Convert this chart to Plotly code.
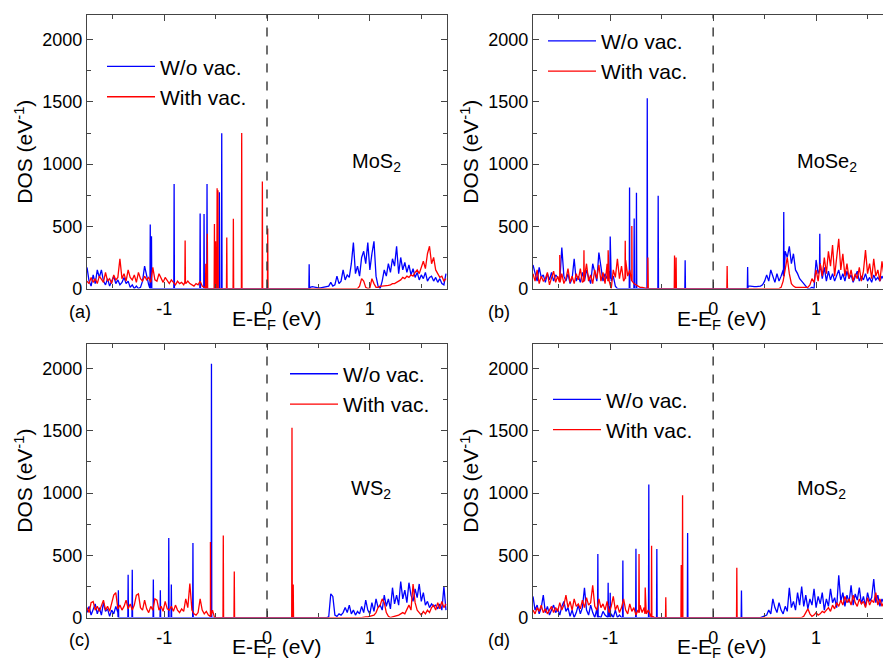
import plotly.graph_objects as go

STEP = 0.02  # energy grid spacing (eV) of the DOS segments

# ---------------- text ----------------
materials = ["MoS<sub>2</sub>", "MoSe<sub>2</sub>", "WS<sub>2</sub>", "MoS<sub>2</sub>"]
panel_tags = ["(a)", "(b)", "(c)", "(d)"]
series_names = ["W/o vac.", "With vac."]
x_tick_vals = [-1, 0, 1]
y_tick_vals = [0, 500, 1000, 1500, 2000]
x_title = "E-E<sub>F</sub> (eV)"
y_title = "DOS (eV<sup>-1</sup>)"

# ---------------- panel (a) MoS2 ----------------
a_blue_start1 = -1.75
a_blue_vals1 = [170, 60, 20, 110, 40, 150, 90, 150, 60, 30, 80, 20, 60, 100, 40, 70, 30, 50, 90, 40,
                60, 10, 30, 0, 20, 0, 10, 60, 180, 90, 30, 0]
a_blue_start2 = 0.40
a_blue_vals2 = [0, 10, 15, 10, 10, 5, 5, 10, 10, 15, 20, 50, 20, 30, 100, 40, 60, 150, 70, 110,
                90, 200, 370, 120, 180, 100, 250, 300, 200, 370, 150, 280, 380, 100, 20, 0, 60, 150, 100, 200,
                130, 240, 180, 340, 120, 250, 150, 210, 130, 190, 110, 160, 90, 130, 70, 110, 80, 130, 60, 90,
                100, 60, 90, 50, 80, 40, 30, 120]
a_blue_spike_x = [-1.135, -1.123, -0.903, -0.65, -0.612, -0.583, -0.463, -0.44, 0.41]
a_blue_spike_h = [515, 420, 840, 603, 600, 840, 774, 1248, 195]
a_blue_spike_base = [0, 0, 0, 0, 0, 0, 0, 0, 0]

a_red_start1 = -1.75
a_red_vals1 = [60, 40, 90, 50, 80, 40, 100, 70, 50, 130, 60, 80, 40, 110, 70, 90, 240, 80, 120, 60,
               150, 90, 70, 110, 50, 130, 80, 60, 100, 70, 90, 50, 170, 70, 60, 120, 80, 50, 90, 60,
               40, 70, 50, 30, 60, 40, 50, 30, 40, 60, 40, 30, 20, 40, 30, 60, 20, 10, 0]
a_red_start2 = 0.88
a_red_vals2 = [0, 20, 80, 60, 10, 0, 5, 80, 40, 10, 10, 20, 20, 20, 20, 25, 30, 40, 40, 50,
               60, 70, 90, 80, 100, 90, 110, 100, 130, 150, 120, 180, 220, 160, 280, 340, 200, 250, 150, 120,
               90, 100, 60, 80]
a_red_spike_x = [-0.796, -0.595, -0.58, -0.511, -0.50, -0.485, -0.477, -0.391, -0.327, -0.246, -0.045, 0.007]
a_red_spike_h = [387, 200, 440, 519, 380, 806, 790, 411, 561, 1251, 861, 482]
a_red_spike_base = [50, 0, 0, 0, 0, 0, 0, 0, 0, 0, 0, 0]

# ---------------- panel (b) MoSe2 ----------------
b_blue_start1 = -1.75
b_blue_vals1 = [190, 130, 60, 170, 90, 110, 50, 120, 70, 130, 60, 110, 90, 60, 330, 100, 60, 120, 40, 80,
                240, 60, 100, 50, 130, 60, 150, 90, 40, 200, 130, 60, 290, 150, 60, 120, 80, 140, 60, 100,
                20, 0]
b_blue_start2 = 0.32
b_blue_vals2 = [0, 20, 20, 15, 15, 15, 15, 20, 30, 60, 110, 60, 150, 90, 50, 120, 60, 100, 150, 300,
                250, 340, 200, 280, 150, 120, 80, 60, 40, 20, 0, 0, 10, 0, 230, 120, 200, 80, 170, 60,
                140, 70, 120, 60, 100, 150, 70, 120, 60, 140, 80, 110, 50, 90, 140, 60, 100, 70, 120, 60,
                90, 50, 110, 70, 90, 60, 100, 70, 90, 60, 80, 60]
b_blue_spike_x = [-1.0, -0.812, -0.767, -0.745, -0.64, -0.534, -0.272, 0.335, 0.686, 1.036]
b_blue_spike_h = [419, 813, 563, 771, 1530, 745, 227, 174, 616, 440]
b_blue_spike_base = [80, 0, 0, 0, 0, 0, 0, 0, 100, 150]

b_red_start1 = -1.75
b_red_vals1 = [120, 60, 150, 40, 100, 60, 80, 130, 30, 90, 140, 50, 100, 60, 120, 40, 80, 160, 50, 100,
               40, 120, 70, 160, 50, 90, 200, 60, 110, 40, 150, 80, 190, 60, 130, 40, 200, 60, 0, 150,
               90, 240, 80, 180, 60, 230, 100, 150, 70, 40, 30, 20, 10, 10, 5, 5, 0]
b_red_start2 = 0.64
b_red_vals2 = [0, 10, 60, 150, 250, 120, 40, 20, 10, 10, 10, 10, 10, 5, 10, 30, 80, 50, 150, 60,
               200, 100, 250, 120, 300, 180, 350, 100, 250, 400, 150, 280, 100, 200, 80, 150, 60, 120, 80, 170,
               60, 140, 310, 120, 200, 80, 240, 100, 150, 60, 220, 100, 180, 90, 150]
b_red_spike_x = [-1.49, -1.255, -1.02, -0.854, -0.79, -0.634, -0.375, -0.36, 0.136]
b_red_spike_h = [270, 308, 308, 385, 503, 250, 265, 250, 182]
b_red_spike_base = [50, 60, 60, 80, 60, 0, 0, 0, 0]

# ---------------- panel (c) WS2 ----------------
c_blue_start1 = -1.75
c_blue_vals1 = [40, 90, 20, 60, 110, 30, 80, 20, 120, 50, 70, 10, 60, 30, 90, 40, 0]
c_blue_start2 = 0.58
c_blue_vals2 = [0, 5, 190, 170, 20, 10, 30, 20, 40, 80, 40, 100, 30, 60, 20, 50, 30, 90, 40, 140,
                60, 30, 120, 50, 150, 80, 100, 60, 180, 90, 150, 70, 240, 110, 180, 100, 290, 150, 220, 120,
                280, 180, 130, 230, 160, 270, 130, 200, 100, 130, 80, 110, 90, 100, 70, 110, 60, 250, 60]
c_blue_spike_x = [-1.445, -1.35, -1.31, -1.105, -1.037, -0.955, -0.93, -0.72, -0.54]
c_blue_spike_h = [220, 345, 385, 305, 220, 640, 265, 600, 2040]
c_blue_spike_base = [0, 0, 0, 0, 0, 0, 0, 0, 0]

c_red_start1 = -1.75
c_red_vals1 = [80, 40, 120, 130, 60, 90, 50, 100, 140, 60, 90, 50, 110, 180, 200, 70, 100, 60, 90, 140,
               70, 110, 60, 100, 180, 190, 80, 60, 140, 70, 40, 90, 60, 150, 140, 60, 90, 50, 130, 70,
               60, 90, 50, 100, 60, 40, 70, 50, 150, 80, 274, 60, 30, 20, 40, 150, 60, 30, 50, 20,
               10, 60, 0]
c_red_start2 = 0.92
c_red_vals2 = [0, 5, 5, 5, 10, 10, 20, 40, 80, 100, 150, 120, 40, 10, 0, 5, 10, 10, 20, 30,
               40, 30, 60, 100, 60, 270, 120, 60, 40, 20, 50, 30, 60, 40, 80, 100, 60, 120, 70, 130,
               80, 110]
c_red_spike_x = [-0.55, -0.425, -0.318, 0.243, 0.255]
c_red_spike_h = [608, 660, 370, 1525, 265]
c_red_spike_base = [10, 0, 0, 0, 0]

# ---------------- panel (d) MoS2 ----------------
d_blue_start1 = -1.75
d_blue_vals1 = [170, 60, 100, 30, 80, 180, 40, 90, 20, 60, 100, 40, 70, 20, 90, 130, 50, 80, 10, 60,
                0, 40, 100, 30, 80, 240, 60, 20, 100, 40, 0, 70, 10, 0, 50, 20, 0, 90, 30, 0,
                60, 0, 20, 0]
d_blue_start2 = 0.46
d_blue_vals2 = [0, 5, 10, 20, 60, 30, 150, 80, 40, 120, 60, 30, 90, 50, 240, 80, 130, 60, 200, 100,
                250, 90, 180, 70, 150, 100, 230, 80, 170, 110, 200, 60, 150, 90, 230, 120, 160, 80, 340, 130,
                200, 90, 180, 120, 260, 100, 190, 140, 240, 110, 170, 90, 200, 130, 160, 310, 120, 180, 90, 150,
                110, 200, 80, 150, 100]
d_blue_spike_x = [-1.12, -1.02, -1.0, -0.877, -0.75, -0.625, -0.547, -0.248, 0.275]
d_blue_spike_h = [511, 279, 200, 458, 553, 1070, 550, 680, 218]
d_blue_spike_base = [0, 0, 0, 0, 0, 0, 0, 0, 0]

d_red_start1 = -1.75
d_red_vals1 = [60, 30, 80, 50, 100, 40, 70, 30, 60, 90, 40, 80, 50, 120, 60, 100, 180, 80, 130, 60,
               150, 90, 110, 70, 140, 80, 160, 100, 120, 260, 90, 60, 150, 80, 110, 60, 130, 40, 90, 170,
               60, 100, 40, 80, 150, 60, 30, 110, 50, 80, 20, 60, 100, 40, 80, 30, 60, 20, 10, 0]
d_red_start2 = 0.86
d_red_vals2 = [0, 10, 40, 70, 30, 10, 20, 40, 20, 30, 50, 40, 60, 80, 50, 100, 70, 120, 90, 140,
               100, 170, 120, 150, 100, 180, 120, 90, 150, 110, 130, 80, 160, 100, 140, 120, 200, 100, 150, 90,
               130, 180, 90, 160, 120]
d_red_spike_x = [-0.72, -0.66, -0.598, -0.46, -0.31, -0.297, 0.23]
d_red_spike_h = [511, 242, 577, 164, 423, 982, 400]
d_red_spike_base = [40, 30, 0, 0, 0, 0, 0]

panels = [
    dict(blue=([(a_blue_start1, a_blue_vals1), (a_blue_start2, a_blue_vals2)], a_blue_spike_x, a_blue_spike_h, a_blue_spike_base),
         red=([(a_red_start1, a_red_vals1), (a_red_start2, a_red_vals2)], a_red_spike_x, a_red_spike_h, a_red_spike_base)),
    dict(blue=([(b_blue_start1, b_blue_vals1), (b_blue_start2, b_blue_vals2)], b_blue_spike_x, b_blue_spike_h, b_blue_spike_base),
         red=([(b_red_start1, b_red_vals1), (b_red_start2, b_red_vals2)], b_red_spike_x, b_red_spike_h, b_red_spike_base)),
    dict(blue=([(c_blue_start1, c_blue_vals1), (c_blue_start2, c_blue_vals2)], c_blue_spike_x, c_blue_spike_h, c_blue_spike_base),
         red=([(c_red_start1, c_red_vals1), (c_red_start2, c_red_vals2)], c_red_spike_x, c_red_spike_h, c_red_spike_base)),
    dict(blue=([(d_blue_start1, d_blue_vals1), (d_blue_start2, d_blue_vals2)], d_blue_spike_x, d_blue_spike_h, d_blue_spike_base),
         red=([(d_red_start1, d_red_vals1), (d_red_start2, d_red_vals2)], d_red_spike_x, d_red_spike_h, d_red_spike_base)),
]


def build(segments, sx, sh, sb):
    pts = []
    for start, vals in segments:
        for i, v in enumerate(vals):
            pts.append((round(start + STEP * i, 4), v))
    for x, h, b in zip(sx, sh, sb):
        pts += [(x - 0.003, b), (x, h), (x + 0.003, b)]
    pts.sort(key=lambda p: p[0])
    return [p[0] for p in pts], [p[1] for p in pts]


W, H = 883, 665
FONT = "Liberation Sans, Arial, Helvetica, sans-serif"
AX = "#444444"

# pixel layout of the four plot areas (left, right, top, bottom)
boxes = [(87, 447, 15, 293), (533, 883, 15, 293), (87, 447, 349, 627), (533, 883, 349, 627)]
x_ranges = [[-1.75, 1.75], [-1.75, 1.65], [-1.75, 1.75], [-1.75, 1.65]]
legend_pos = [(102, 47), (543, 21), (285, 359), (548, 385)]
mat_pos = [(376, 165), (827, 165), (371, 497), (821, 497)]
tag_pos = [(80, 317), (499, 317), (79, 650), (499, 650)]
xtitle_pos = [(277, 325), (722, 325), (277, 658), (722, 658)]

fig = go.Figure()
layout = dict(width=W, height=H, margin=dict(l=0, r=0, t=0, b=0),
              paper_bgcolor="white", plot_bgcolor="white",
              font=dict(family=FONT, color="black", size=18), annotations=[], shapes=[])

for i, p in enumerate(panels):
    n = "" if i == 0 else str(i + 1)
    leg = "legend" if i == 0 else "legend" + str(i + 1)
    for key, name, color in (("blue", series_names[0], "#0000FF"), ("red", series_names[1], "#FF0000")):
        segs, sx, sh, sb = p[key]
        xs, ys = build(segs, sx, sh, sb)
        fig.add_trace(go.Scatter(x=xs, y=ys, mode="lines", name=name,
                                 line=dict(color=color, width=1.3),
                                 xaxis="x" + n, yaxis="y" + n, legend=leg))
    l, r, t, b = boxes[i]
    col2 = i % 2 == 1
    layout["xaxis" + n] = dict(
        domain=[l / W, r / W], range=x_ranges[i], anchor="y" + n,
        showline=True, linecolor=AX, linewidth=1.3, mirror="ticks",
        ticks="inside", ticklen=6, tickwidth=1.2, tickcolor=AX,
        tickvals=x_tick_vals, ticktext=[str(v) if v >= 0 else "-" + str(-v) for v in x_tick_vals],
        minor=dict(ticks="inside", ticklen=4, tickwidth=1, tickcolor=AX, dtick=0.5, tick0=0),
        showgrid=False, zeroline=False, tickfont=dict(size=18), ticklabelstandoff=4)
    layout["yaxis" + n] = dict(
        domain=[1 - b / H, 1 - t / H], range=[0, 2200], anchor="x" + n,
        showline=True, linecolor=AX, linewidth=1.3, mirror=False if col2 else "ticks",
        ticks="inside", ticklen=6, tickwidth=1.2, tickcolor=AX,
        tickvals=y_tick_vals,
        minor=dict(ticks="inside", ticklen=4, tickwidth=1, tickcolor=AX, dtick=250, tick0=0),
        showgrid=False, zeroline=False, tickfont=dict(size=18),
        title=dict(text=y_title, font=dict(size=21), standoff=3))
    lx, ly = legend_pos[i]
    layout[leg] = dict(x=lx / W, y=1 - ly / H, xanchor="left", yanchor="top",
                       bgcolor="rgba(0,0,0,0)", borderwidth=0, font=dict(size=21),
                       itemwidth=48, tracegroupgap=0)
    layout["shapes"].append(dict(type="line", xref="x" + n, yref="y" + n, x0=0, x1=0, y0=0, y1=2200,
                                 line=dict(color="#333333", width=1.4, dash="dash")))
    mx, my = mat_pos[i]
    layout["annotations"].append(dict(text=materials[i], x=mx / W, y=1 - my / H, xref="paper", yref="paper",
                                      showarrow=False, font=dict(size=20), xanchor="center", yanchor="middle"))
    tx, ty = tag_pos[i]
    layout["annotations"].append(dict(text=panel_tags[i], x=tx / W, y=1 - ty / H, xref="paper", yref="paper",
                                      showarrow=False, font=dict(size=18), xanchor="center", yanchor="middle"))
    ex, ey = xtitle_pos[i]
    layout["annotations"].append(dict(text=x_title, x=ex / W, y=1 - ey / H, xref="paper", yref="paper",
                                      showarrow=False, font=dict(size=21), xanchor="center", yanchor="middle"))

fig.update_layout(**layout)
fig.write_html("out.html", config={"displayModeBar": False},
               post_script="document.body.style.margin='0';")
